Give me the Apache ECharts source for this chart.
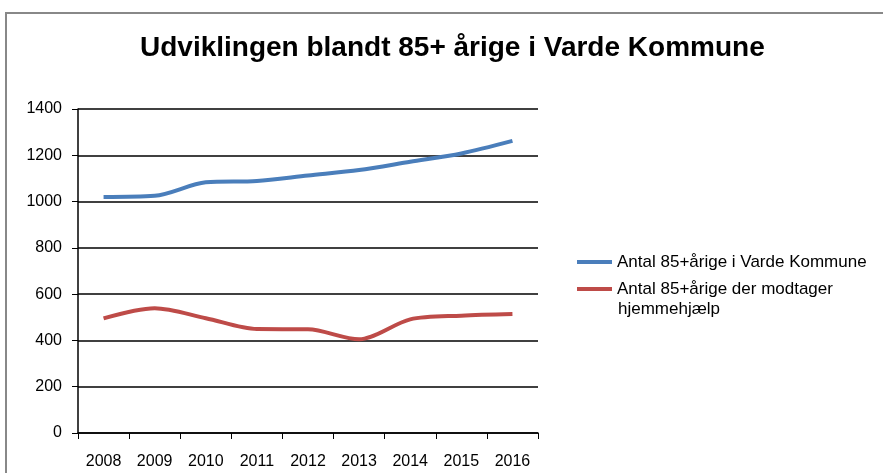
<!DOCTYPE html>
<html>
<head>
<meta charset="utf-8">
<script src="https://cdn.jsdelivr.net/npm/echarts@6/dist/echarts.min.js"></script>
<style>
  html, body { margin: 0; padding: 0; background: #fff; }
  #chart { width: 883px; height: 473px; }
</style>
</head>
<body>
<div id="chart"></div>
<script>
  // data
  const years = ['2008', '2009', '2010', '2011', '2012', '2013', '2014', '2015', '2016']
  const antalAlle = [1020, 1025, 1083, 1089, 1113, 1136, 1172, 1208, 1262]
  const antalHjemmehjaelp = [495, 539, 496, 449, 448, 405, 491, 507, 514]
  const yTicks = { min: 0, max: 1400, step: 200 }

  const nameAlle = 'Antal 85+årige i Varde Kommune'
  const nameHjem = 'Antal 85+årige der modtager hjemmehjælp'

  const myChart = echarts.init(document.getElementById('chart'))
  const font = 'Liberation Sans, Arial, sans-serif'

  const option = {
    animation: false,
    textStyle: { fontFamily: font, color: '#000' },
    title: {
      text: 'Udviklingen blandt 85+ årige i Varde Kommune',
      left: 135,
      top: 29,
      textStyle: { fontSize: 28, fontWeight: 'bold', color: '#000', fontFamily: font }
    },
    graphic: [{
      type: 'rect',
      shape: { x: 6, y: 13, width: 1000, height: 600 },
      style: { fill: 'none', stroke: '#888', lineWidth: 2 },
      silent: true
    }, {
      // second line of the red legend label
      type: 'text',
      left: 618,
      top: 301,
      style: { text: 'hjemmehjælp', fontSize: 17, fontFamily: font, fill: '#000' },
      silent: true
    }],
    legend: {
      orient: 'vertical',
      left: 572,
      top: 246,
      itemWidth: 35,
      itemHeight: 4,
      itemGap: 5,
      icon: 'rect',
      textStyle: { fontSize: 17, color: '#000', lineHeight: 22 },
      formatter: (n) => n === nameHjem ? 'Antal 85+årige der modtager' : n,
      data: [nameAlle, nameHjem]
    },
    grid: { left: 78, right: 345, top: 109, bottom: 40 },
    xAxis: {
      type: 'category',
      data: years,
      boundaryGap: true,
      axisLine: { lineStyle: { color: '#000', width: 1.5 } },
      axisTick: { show: true, inside: false, length: 6, lineStyle: { color: '#000' } },
      axisLabel: { fontSize: 16, color: '#000', margin: 21 }
    },
    yAxis: {
      type: 'value',
      min: yTicks.min,
      max: yTicks.max,
      interval: yTicks.step,
      axisLine: { show: true, lineStyle: { color: '#000', width: 1.5 } },
      axisTick: { show: true, length: 6, lineStyle: { color: '#000' } },
      axisLabel: { fontSize: 16, color: '#000', margin: 16, padding: [5, 0, 0, 0], formatter: (v) => String(v) },
      splitLine: { lineStyle: { color: '#000', width: 1.5 } }
    },
    series: [{
      name: nameAlle,
      type: 'line',
      smooth: 0.3,
      showSymbol: false,
      data: antalAlle,
      itemStyle: { color: '#4A7EBB' },
      lineStyle: { color: '#4A7EBB', width: 4 }
    }, {
      name: nameHjem,
      type: 'line',
      smooth: 0.3,
      showSymbol: false,
      data: antalHjemmehjaelp,
      itemStyle: { color: '#BE4B48' },
      lineStyle: { color: '#BE4B48', width: 4 }
    }]
  }
  myChart.setOption(option)
</script>
</body>
</html>
